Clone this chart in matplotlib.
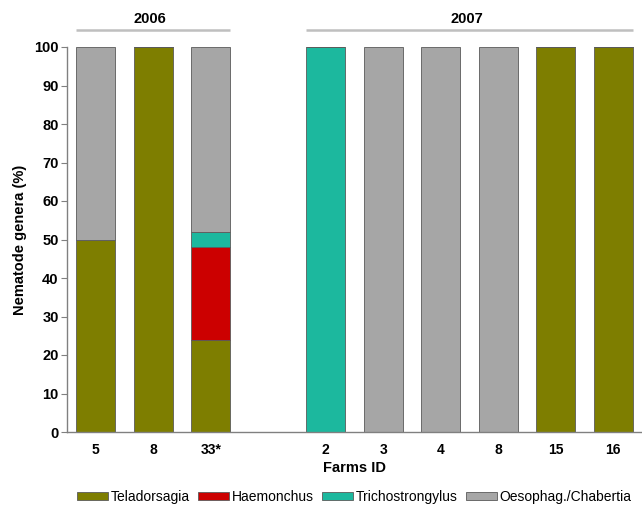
import matplotlib
matplotlib.use("Agg")
import matplotlib.pyplot as plt
import matplotlib.transforms as mtransforms
from matplotlib.patches import Patch
import numpy as np

plt.rcParams['font.family'] = ['Liberation Sans', 'DejaVu Sans']

# Farm IDs per sampling year
years = ["2006", "2007"]
farms_2006 = ["5", "8", "33*"]
farms_2007 = ["2", "3", "4", "8", "15", "16"]

# Percentage of each nematode genus per farm (2006 farms followed by 2007 farms)
genera = ["Teladorsagia", "Haemonchus", "Trichostrongylus", "Oesophag./Chabertia"]
teladorsagia     = [50, 100, 24,   0,   0,   0,   0, 100, 100]
haemonchus       = [0,    0, 24,   0,   0,   0,   0,   0,   0]
trichostrongylus = [0,    0,  4, 100,   0,   0,   0,   0,   0]
oesophag         = [50,   0, 48,   0, 100, 100, 100,   0,   0]

colors = ["#7E7E00", "#CC0000", "#1CB89E", "#A6A6A6"]

labels = farms_2006 + farms_2007
pos_2006 = np.arange(len(farms_2006))
pos_2007 = np.arange(len(farms_2007)) + len(farms_2006) + 1
positions = np.concatenate([pos_2006, pos_2007])
width = 0.68

fig = plt.figure(figsize=(6.42, 5.12), dpi=100)
ax = fig.add_axes([67 / 642, 1 - 432 / 512, 575 / 642, 385 / 512])

bottom = np.zeros(len(labels))
for name, vals, col in zip(genera, [teladorsagia, haemonchus, trichostrongylus, oesophag], colors):
    vals = np.array(vals, dtype=float)
    ax.bar(positions, vals, width, bottom=bottom, color=col,
           edgecolor="#5a5a5a", linewidth=0.6, label=name)
    bottom += vals

ax.set_xlim(-0.5, positions[-1] + 0.5)
ax.set_ylim(0, 100)
ax.set_yticks(np.arange(0, 101, 10))
ax.set_xticks(positions)
ax.set_xticklabels(labels, fontsize=10, fontweight="bold")
ax.tick_params(axis="y", labelsize=10.5, length=4, width=0.8, color="#808080", pad=2)
for t in ax.get_yticklabels():
    t.set_fontweight("bold")
ax.tick_params(axis="x", length=0, pad=8)

for s in ["top", "right"]:
    ax.spines[s].set_visible(False)
for s in ["left", "bottom"]:
    ax.spines[s].set_color("#808080")
    ax.spines[s].set_linewidth(1.0)

ax.set_ylabel("Nematode genera (%)", fontsize=10.5, fontweight="bold", labelpad=5)
ax.set_xlabel("Farms ID", fontsize=10.5, fontweight="bold", labelpad=3)

# Year brackets above each group of farms
trans = mtransforms.blended_transform_factory(ax.transData, ax.transAxes)
for year, pos in zip(years, [pos_2006, pos_2007]):
    x0 = pos[0] - width / 2
    x1 = pos[-1] + width / 2
    ax.plot([x0, x1], [1.044, 1.044], transform=trans, color="#BFBFBF",
            linewidth=1.8, clip_on=False, solid_capstyle="butt")
    ax.text((x0 + x1) / 2 - 0.05, 1.074, year, transform=trans, ha="center", va="center",
            fontsize=10.5, fontweight="bold")

handles = [Patch(facecolor=c, edgecolor="#5a5a5a", linewidth=0.6, label=g)
           for g, c in zip(genera, colors)]
fig.legend(handles=handles, loc="center", bbox_to_anchor=(354.5 / 642, 1 - 497 / 512),
           ncol=4, frameon=False, fontsize=10, handlelength=2.2, handleheight=0.55,
           handletextpad=0.2, columnspacing=0.62, borderpad=0.1)

fig.savefig("out.png", dpi=100)
